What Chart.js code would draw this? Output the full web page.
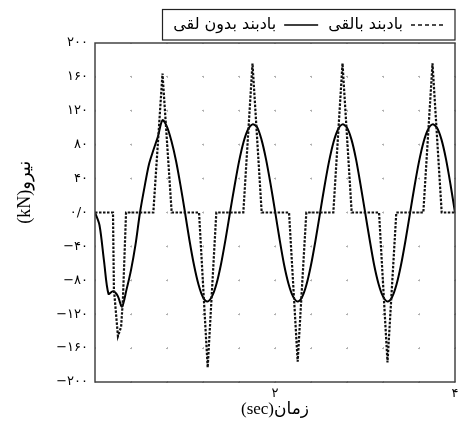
<!DOCTYPE html>
<html><head><meta charset="utf-8">
<script src="https://cdn.jsdelivr.net/npm/chart.js@4.4.0/dist/chart.umd.min.js"></script>
<style>html,body{margin:0;padding:0;background:#fff;}#wrap{width:459px;height:423px;}</style>
</head><body><div id="wrap"><canvas id="c" width="459" height="423"></canvas></div>
<script>
// ---- data ----
const seriesNames = ['بادبند بالقی', 'بادبند بدون لقی'];

// brace with gap (dotted)
const gapTimes = [0, 0.2, 0.21, 0.255, 0.29, 0.31, 0.345,
  0.648, 0.75, 0.852,
  1.156, 1.252, 1.348,
  1.648, 1.75, 1.852,
  2.156, 2.252, 2.348,
  2.648, 2.75, 2.852,
  3.156, 3.25, 3.348,
  3.648, 3.75, 3.852,
  4.0];
const gapForce = [0, 0, -90, -146, -135, -103, 0,
  0, 164, 0,
  0, -183, 0,
  0, 176, 0,
  0, -176, 0,
  0, 176, 0,
  0, -177, 0,
  0, 176, 0,
  0];

// brace without gap (solid)
const noGapTimes = [0, 0.05, 0.1, 0.15, 0.2, 0.25, 0.3, 0.35, 0.4, 0.45,
  0.5, 0.55, 0.6, 0.65, 0.7, 0.75, 0.8, 0.85, 0.9, 0.95,
  1.0, 1.05, 1.1, 1.15, 1.2, 1.25, 1.3, 1.35, 1.4, 1.45,
  1.5, 1.55, 1.6, 1.65, 1.7, 1.75, 1.8, 1.85, 1.9, 1.95,
  2.0, 2.05, 2.1, 2.15, 2.2, 2.25, 2.3, 2.35, 2.4, 2.45,
  2.5, 2.55, 2.6, 2.65, 2.7, 2.75, 2.8, 2.85, 2.9, 2.95,
  3.0, 3.05, 3.1, 3.15, 3.2, 3.25, 3.3, 3.35, 3.4, 3.45,
  3.5, 3.55, 3.6, 3.65, 3.7, 3.75, 3.8, 3.85, 3.9, 3.95,
  4.0];
const noGapForce = [0, -15, -57, -96, -93, -98, -111, -91, -68, -38,
  0, 30, 57, 74, 90, 109, 101, 84, 61, 32,
  0, -33, -62, -85, -100, -105, -99, -84, -61, -32,
  0, 31, 60, 83, 98, 104, 101, 86, 63, 34,
  2, -31, -61, -84, -99, -105, -100, -85, -62, -33,
  -1, 31, 60, 83, 98, 104, 100, 86, 63, 33,
  1, -31, -61, -84, -99, -105, -100, -85, -62, -33,
  -1, 31, 60, 83, 98, 104, 100, 86, 63, 33,
  0];

const yTickValues = [-200, -160, -120, -80, -40, 0, 40, 80, 120, 160, 200];
const yTickLabels = ['−۲۰۰', '−۱۶۰', '−۱۲۰', '−۸۰', '−۴۰', '۰/۰', '۴۰', '۸۰', '۱۲۰', '۱۶۰', '۲۰۰'];
const xTickValues = [2, 4];
const xTickLabels = ['۲', '۴'];
const xTitle = '(sec)زمان';
const yTitle = '(kN)نیرو';

// ---- build chart ----
const LRM = '\u200E';
const toPts = (xs, ys) => xs.map((x, i) => ({x: x, y: ys[i]}));

const frame = {
  id: 'frame',
  afterDraw(chart) {
    const {ctx, chartArea: a} = chart;
    ctx.save();
    ctx.strokeStyle = '#444';
    ctx.lineWidth = 1.5;
    ctx.setLineDash([]);
    ctx.strokeRect(a.left, a.top, a.right - a.left, a.bottom - a.top);
    const hb = chart.legend && chart.legend.legendHitBoxes;
    if (hb && hb.length) {
      let l = Infinity, t = Infinity, b = -Infinity;
      hb.forEach(h => { l = Math.min(l, h.left); t = Math.min(t, h.top); b = Math.max(b, h.top + h.height); });
      ctx.strokeStyle = '#222';
      ctx.lineWidth = 1.2;
      const x0 = Math.round(l - 11) + 0.5, y0 = Math.round(t - 8) + 0.5;
      ctx.strokeRect(x0, y0, Math.round(a.right) - x0, Math.round(b + 7) - y0);
    }
    ctx.restore();
  }
};

new Chart(document.getElementById('c'), {
  type: 'line',
  data: {
    datasets: [
      { label: seriesNames[0], data: toPts(gapTimes, gapForce), borderColor: '#111', borderWidth: 2.2,
        borderDash: [2.5, 1.5], pointRadius: 0, tension: 0, fill: false },
      { label: seriesNames[1], data: toPts(noGapTimes, noGapForce), borderColor: '#000', borderWidth: 2,
        pointRadius: 0, tension: 0.3, fill: false }
    ]
  },
  options: {
    responsive: false,
    animation: false,
    layout: { padding: { left: 10, right: 4, top: 7, bottom: 0 } },
    plugins: {
      legend: {
        position: 'top', align: 'start', rtl: true, textDirection: 'rtl',
        labels: { color: '#000', font: { family: "'DejaVu Sans'", size: 16 }, usePointStyle: true,
          pointStyle: 'line', pointStyleWidth: 34, padding: 10,
          generateLabels(chart) {
            const items = Chart.defaults.plugins.legend.labels.generateLabels(chart);
            items.forEach(it => { it.lineWidth = 1.5; if (it.datasetIndex === 0) it.lineDash = [4, 3]; });
            return items;
          } }
      },
      tooltip: { enabled: false }
    },
    scales: {
      x: {
        type: 'linear', min: 0, max: 4,
        afterFit(s) { s.height = 41; s.paddingRight = 0; s.paddingLeft = 0; },
        ticks: { stepSize: 0.4, autoSkip: false, maxRotation: 0, padding: 4, color: '#000',
          font: { family: "'DejaVu Sans'", size: 13 },
          callback: v => { const i = xTickValues.findIndex(t => Math.abs(t - v) < 1e-6); return i >= 0 ? xTickLabels[i] : ''; } },
        grid: { color: '#b0b0b0', lineWidth: 1, drawTicks: false },
        border: { display: false, dash: [2, 31.9], dashOffset: 1 },
        title: { display: true, text: xTitle, color: '#000', font: { family: "'Liberation Serif', 'DejaVu Sans'", size: 17 }, padding: { top: 0, bottom: 3 } }
      },
      y: {
        min: -200, max: 200,
        afterFit(s) { s.width = 85; },
        ticks: { stepSize: 40, padding: 7, color: '#000', font: { family: "'DejaVu Sans'", size: 13 },
          callback: v => { const i = yTickValues.indexOf(Math.round(v)); return i >= 0 ? LRM + yTickLabels[i] : ''; } },
        grid: { color: '#b0b0b0', lineWidth: 1, drawTicks: false },
        border: { display: false, dash: [2, 34], dashOffset: 1 },
        title: { display: true, text: '\u00A0\u00A0\u00A0\u00A0\u00A0\u00A0\u00A0\u00A0\u00A0' + yTitle, color: '#000',
          font: { family: "'Liberation Serif', 'DejaVu Sans'", size: 18 }, padding: { top: 4, bottom: 0 } }
      }
    }
  },
  plugins: [frame]
});
</script></body></html>
